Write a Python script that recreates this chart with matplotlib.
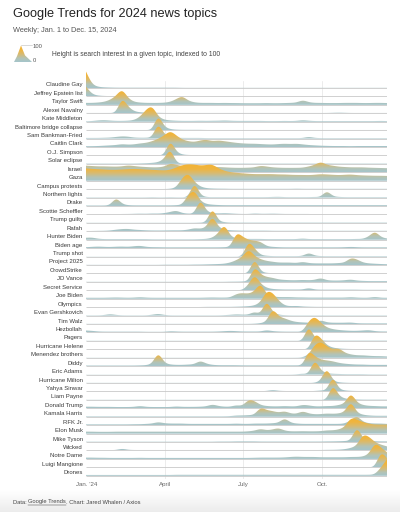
import numpy as np
import matplotlib
matplotlib.use('Agg')
import matplotlib.pyplot as plt
from matplotlib.patches import Polygon
from matplotlib.colors import LinearSegmentedColormap
import matplotlib.transforms as mtransforms

plt.rcParams['font.family'] = ['Liberation Sans', 'DejaVu Sans']

# ---------------- data (weekly, Dec 31 2023 .. Dec 15 2024, 51 weeks) -------------
topics = ["Claudine Gay", "Jeffrey Epstein list", "Taylor Swift", "Alexei Navalny",
          "Kate Middleton", "Baltimore bridge collapse", "Sam Bankman-Fried",
          "Caitlin Clark", "O.J. Simpson", "Solar eclipse", "Israel", "Gaza",
          "Campus protests", "Northern lights", "Drake", "Scottie Scheffler",
          "Trump guilty", "Rafah", "Hunter Biden", "Biden age", "Trump shot",
          "Project 2025", "CrowdStrike", "JD Vance", "Secret Service", "Joe Biden",
          "Olympics", "Evan Gershkovich", "Tim Walz", "Hezbollah", "Pagers",
          "Hurricane Helene", "Menendez brothers", "Diddy", "Eric Adams",
          "Hurricane Milton", "Yahya Sinwar", "Liam Payne", "Donald Trump",
          "Kamala Harris", "RFK Jr.", "Elon Musk", "Mike Tyson", "Wicked",
          "Notre Dame", "Luigi Mangione", "Drones"]

claudine = [100,22,7,4,3,2,2,2,2,2, 2,2,2,2,2,2,1,1,1,1, 1,1,1,1,1,1,1,1,1,1, 1,1,1,1,1,1,1,1,1,1, 1,1,1,1,1,1,1,1,1,1, 1]
epstein = [60,14,5,3,2,2,2,2,2,2, 2,2,2,2,2,2,2,2,2,2, 2,2,2,2,2,2,2,2,2,2, 2,2,2,2,2,2,2,2,2,2, 2,2,2,2,2,2,2,2,2,2, 2]
taylor = [12,12,14,18,30,55,100,40,18,14, 12,12,12,13,18,35,55,25,15,12, 12,12,11,12,11,11,10,10,10,10, 11,10,10,11,12,14,30,16,12,12, 11,11,11,12,12,12,11,11,12,12, 11]
navalny = [2,2,2,2,2,3,100,40,12,6, 4,3,3,2,2,2,2,2,2,2, 2,2,2,2,2,2,2,2,2,2, 2,2,2,2,2,2,2,2,2,2, 2,3,4,3,2,2,2,2,2,2, 2]
kate = [3,4,8,10,7,5,5,6,10,30, 75,100,30,12,8,6,5,5,5,6, 5,6,6,8,6,5,5,5,5,5, 4,4,4,5,4,5,10,6,4,4, 4,4,4,4,4,4,4,4,4,5, 4]
baltimore = [1,1,1,1,1,1,1,1,1,1, 1,1,100,20,6,3,2,2,2,2, 1,1,1,1,1,1,1,1,1,1, 1,1,1,1,1,1,1,1,1,1, 1,1,1,1,1,1,1,1,1,1, 1]
sbf = [4,4,4,5,6,10,14,12,6,5, 5,8,100,25,8,5,4,4,4,4, 3,3,3,3,3,3,3,3,3,3, 3,3,3,3,3,3,3,12,4,3, 3,3,3,3,3,3,3,3,3,3, 3]
caitlin = [5,5,6,8,10,12,18,14,16,22, 25,35,50,70,100,70,45,35,30,40, 45,35,40,35,30,25,22,20,20,18, 16,15,18,20,18,20,16,12,10,8, 7,6,6,6,5,6,6,6,6,6, 6]
oj = [1,1,1,1,1,1,1,1,1,1, 1,1,1,2,100,22,5,3,2,2, 2,2,2,2,2,2,2,2,2,2, 2,2,2,2,2,2,2,2,2,2, 2,2,2,2,2,2,2,2,2,2, 2]
eclipse = [2,2,2,2,2,2,2,2,2,3, 4,6,10,30,100,6,2,2,2,2, 2,2,2,2,2,2,2,2,2,2, 2,2,2,2,2,2,2,2,2,2, 3,2,2,2,2,2,2,2,2,2, 2]
israel = [40,38,36,36,35,34,36,42,38,34, 32,30,30,34,55,45,38,35,33,32, 32,33,32,30,28,27,27,28,30,40, 35,30,28,27,27,27,28,35,45,65, 45,40,34,32,30,30,30,28,27,26, 25]
gaza = [75,72,70,68,66,66,68,70,72,70, 68,66,64,62,66,80,95,100,98,92, 95,100,75,60,52,48,45,42,40,40, 40,40,38,38,36,35,35,34,36,40, 38,36,34,36,38,34,32,31,30,30, 29]
campus = [1,1,1,1,1,1,1,1,1,1, 1,1,1,1,2,10,70,100,45,15, 6,4,3,3,2,2,2,2,2,2, 2,2,2,2,2,3,2,2,2,2, 2,2,2,2,2,2,2,2,2,2, 2]
northern = [2,2,2,2,2,2,2,2,2,2, 2,3,2,2,3,2,2,3,100,15, 3,3,3,3,3,3,3,3,3,3, 3,4,5,3,3,3,3,3,4,4, 45,8,4,3,3,3,3,3,3,3, 3]
drake = [3,3,3,3,5,55,12,5,4,4, 4,4,4,4,4,5,8,70,100,30, 12,8,6,5,5,5,5,5,5,5, 5,5,5,5,5,5,5,5,5,5, 5,5,5,5,5,5,5,5,5,5, 5]
scheffler = [2,2,2,2,2,2,3,3,4,5, 4,6,5,8,15,25,8,5,5,100, 20,8,6,8,6,4,3,3,6,4, 4,5,4,3,3,3,3,3,2,2, 2,2,2,2,2,2,2,2,2,2, 2]
trump_guilty = [1,1,1,1,1,1,1,1,1,1, 1,1,1,1,1,1,1,1,1,2, 4,100,12,4,2,2,2,2,2,2, 2,2,2,2,2,2,2,2,2,2, 2,2,2,2,2,2,2,2,2,2, 2]
rafah = [2,2,3,3,5,10,14,15,10,8, 6,5,5,5,6,6,6,10,20,15, 25,100,25,10,6,5,4,4,4,4, 4,3,3,3,3,3,3,3,3,3, 3,3,3,3,3,3,3,3,3,3, 3]
hunter = [12,14,6,4,4,4,4,4,4,4, 4,3,3,3,3,3,3,3,3,4, 5,12,40,100,20,8,6,5,5,5, 4,4,4,4,4,4,8,4,4,4, 4,4,4,4,4,5,5,20,55,15, 8]
biden_age = [6,8,10,8,7,9,10,8,12,15, 8,6,6,5,5,5,5,5,5,5, 5,5,5,6,8,100,70,50,45,40, 12,8,6,5,5,5,5,5,5,5, 5,5,5,6,8,6,5,5,5,5, 5]
trump_shot = [1,1,1,1,1,1,1,1,1,1, 1,1,1,1,1,1,1,1,1,1, 1,1,1,1,1,1,2,100,50,10, 5,3,3,3,3,3,4,25,6,3, 3,3,3,3,4,3,3,3,3,3, 3]
project2025 = [1,1,1,1,1,1,1,1,1,1, 1,1,1,2,2,2,2,2,3,3, 4,5,6,8,15,30,50,100,55,35, 25,20,15,15,15,12,20,12,10,10, 10,10,12,15,45,35,15,10,8,6, 5]
crowdstrike = [1,1,1,1,1,1,1,1,1,1, 1,1,1,1,1,1,1,1,1,1, 1,1,1,1,1,1,1,1,100,12, 3,2,2,2,2,2,2,2,2,2, 2,2,2,2,2,2,2,2,2,2, 2]
jd_vance = [1,1,1,1,1,1,1,1,1,1, 1,1,1,1,1,1,1,1,1,1, 1,1,1,1,2,2,3,5,100,45, 30,25,15,12,10,10,12,10,12,25, 10,8,8,10,15,8,6,5,5,5, 5]
secret_service = [1,1,1,1,1,1,1,1,1,1, 1,1,1,1,1,1,1,1,1,1, 1,1,1,1,1,1,1,35,100,40, 15,8,6,5,5,5,5,15,5,4, 4,4,4,4,4,4,3,3,3,3, 3]
joe_biden = [6,6,6,6,7,8,7,6,7,10, 7,6,6,6,6,6,6,6,6,6, 7,8,7,7,8,30,35,30,45,100, 25,14,10,10,10,8,8,7,7,7, 7,7,7,7,10,7,6,6,12,6, 6]
olympics = [1,1,1,1,1,1,1,1,1,1, 1,1,1,1,1,1,1,1,1,1, 2,2,2,2,2,3,4,6,10,30, 100,90,40,10,6,8,4,3,2,2, 2,2,2,2,2,2,2,2,2,2, 2]
gershkovich = [2,2,2,3,10,4,2,2,2,2, 2,5,12,4,2,2,2,2,2,2, 2,2,2,3,5,8,6,6,25,8, 100,20,5,3,2,2,2,2,2,2, 2,2,2,2,2,2,2,2,2,2, 2]
walz = [1,1,1,1,1,1,1,1,1,1, 1,1,1,1,1,1,1,1,1,1, 1,1,1,1,1,1,1,1,2,5, 15,100,45,35,20,12,10,8,8,25, 10,8,8,8,10,5,4,4,4,4, 4]
hezbollah = [12,10,6,5,5,5,5,5,5,5, 4,4,4,4,8,6,5,5,5,5, 5,5,6,8,10,8,6,6,6,6, 15,8,6,5,5,5,5,70,100,60, 30,20,15,12,10,10,12,15,8,6, 6]
pagers = [1,1,1,1,1,1,1,1,1,1, 1,1,1,1,1,1,1,1,1,1, 1,1,1,1,1,1,1,1,1,1, 1,1,1,1,1,1,1,100,15,4, 2,2,2,2,2,2,2,2,2,2, 2]
helene = [1,1,1,1,1,1,1,1,1,1, 1,1,1,1,1,1,1,1,1,1, 1,1,1,1,1,1,1,1,1,1, 1,1,1,1,1,1,1,1,100,70, 25,10,5,3,2,2,2,2,2,2, 2]
menendez = [1,1,1,1,1,1,1,1,1,1, 1,1,1,1,1,1,1,1,1,1, 1,1,1,1,1,1,1,1,1,1, 1,1,1,1,1,1,2,20,80,100, 70,50,60,30,20,15,15,12,10,10, 8]
diddy = [4,4,4,4,4,4,4,4,4,5, 6,15,90,20,10,8,8,10,12,35, 15,8,6,6,6,6,5,5,5,5, 5,5,5,5,5,5,6,100,60,40, 35,30,20,15,12,10,10,8,8,8, 8]
eric_adams = [1,1,1,1,1,1,1,1,1,1, 1,1,1,1,1,1,1,1,1,1, 1,1,1,1,1,1,1,1,1,1, 1,1,1,1,1,2,6,4,100,25, 8,5,4,3,3,3,3,2,2,2, 2]
milton = [1,1,1,1,1,1,1,1,1,1, 1,1,1,1,1,1,1,1,1,1, 1,1,1,1,1,1,1,1,1,1, 1,1,1,1,1,1,1,1,1,15, 100,15,4,2,1,1,1,1,1,1, 1]
sinwar = [2,2,2,2,2,2,2,2,2,2, 2,2,2,2,2,2,2,2,2,2, 2,2,2,2,2,2,2,2,2,2, 3,10,4,3,2,2,2,2,3,6, 8,100,15,6,4,3,3,2,2,2, 2]
liam = [1,1,1,1,1,1,1,1,1,1, 1,1,1,1,1,1,1,1,1,1, 1,1,1,1,1,1,1,1,1,1, 1,1,1,1,1,1,1,1,1,1, 1,100,25,8,4,3,2,2,2,2, 2]
trump = [10,10,9,9,9,8,8,8,9,15, 9,8,8,8,8,12,9,9,9,10, 12,25,14,10,10,20,14,55,45,20, 14,12,12,14,12,12,22,18,12,12, 14,14,20,30,100,35,20,15,14,12, 12]
harris = [3,3,3,3,3,3,3,3,3,3, 3,3,3,3,3,3,3,3,3,3, 3,3,3,3,4,8,8,10,12,60, 40,35,25,35,20,18,35,20,15,16, 20,18,20,30,100,25,12,8,6,6, 6]
rfk = [5,5,5,5,5,5,5,5,6,6, 8,10,20,12,10,10,10,8,8,8, 8,8,8,8,8,10,8,8,10,10, 10,12,15,45,15,10,8,8,8,8, 8,8,8,10,30,60,20,12,10,10, 8]
musk = [12,12,11,11,11,12,12,12,12,12, 12,12,12,12,12,12,12,12,12,12, 12,12,12,12,12,12,12,14,18,30, 20,25,35,18,14,14,15,14,14,15, 20,20,25,40,100,85,70,60,55,55, 55]
tyson = [2,2,2,2,2,2,2,2,2,2, 2,2,2,2,2,2,2,2,2,2, 2,2,3,3,3,4,4,4,4,3, 3,3,3,3,3,3,3,3,3,3, 4,4,5,6,10,100,20,8,5,4, 4]
wicked = [2,2,2,2,2,3,12,4,3,3, 3,3,3,3,3,3,3,3,3,3, 3,3,3,3,3,3,3,3,3,3, 3,3,3,3,3,3,3,3,3,3, 4,4,5,8,15,30,100,85,50,35, 25]
notre_dame = [8,8,7,7,6,6,6,6,6,7, 6,6,6,6,6,6,6,6,6,6, 6,6,6,6,6,6,6,6,7,8, 8,8,8,9,12,14,12,12,12,10, 10,10,10,10,12,12,14,30,100,70, 40]
luigi = [1,1,1,1,1,1,1,1,1,1, 1,1,1,1,1,1,1,1,1,1, 1,1,1,1,1,1,1,1,1,1, 1,1,1,1,1,1,1,1,1,1, 1,1,1,1,1,1,1,1,2,100, 55]
drones = [5,5,5,5,5,5,5,5,5,5, 5,5,5,5,5,6,6,6,6,6, 6,6,6,6,6,6,6,6,6,6, 6,6,6,6,6,6,6,6,6,6, 6,6,6,6,6,6,6,6,8,50, 100]

series = [claudine, epstein, taylor, navalny, kate, baltimore, sbf, caitlin, oj,
          eclipse, israel, gaza, campus, northern, drake, scheffler, trump_guilty,
          rafah, hunter, biden_age, trump_shot, project2025, crowdstrike, jd_vance,
          secret_service, joe_biden, olympics, gershkovich, walz, hezbollah, pagers,
          helene, menendez, diddy, eric_adams, milton, sinwar, liam, trump, harris,
          rfk, musk, tyson, wicked, notre_dame, luigi, drones]

# x = days since Jan 1 2024 (weeks start Sunday Dec 31 2023)
week_days = [7 * w - 1 for w in range(51)]
tick_days = [0, 91, 182, 274]
tick_labels = ["Jan. '24", "April", "July", "Oct."]

# legend glyph
legend_x = [0, 3, 7, 11, 18]
legend_v = [0, 35, 100, 40, 0]

# ---------------- helpers -------------
W, H = 400, 512
fig = plt.figure(figsize=(W / 100, H / 100), dpi=100)


def px_box(x0, y0, x1, y1):
    return [x0 / W, 1 - y1 / H, (x1 - x0) / W, (y1 - y0) / H]


def curve_basis(x, y, n=10):
    """Replicates d3.curveBasis."""
    x = np.asarray(x, float)
    y = np.asarray(y, float)
    t = np.linspace(0, 1, n)[1:]

    def bez(p0, c1, c2, p3):
        return (1 - t) ** 3 * p0 + 3 * (1 - t) ** 2 * t * c1 + 3 * (1 - t) * t ** 2 * c2 + t ** 3 * p3

    px, py = [x[0]], [y[0]]
    cx, cy = (5 * x[0] + x[1]) / 6, (5 * y[0] + y[1]) / 6
    px.append(cx); py.append(cy)

    def seg(x0, y0, x1, y1, xn, yn, cx, cy):
        c1x, c1y = (2 * x0 + x1) / 3, (2 * y0 + y1) / 3
        c2x, c2y = (x0 + 2 * x1) / 3, (y0 + 2 * y1) / 3
        ex, ey = (x0 + 4 * x1 + xn) / 6, (y0 + 4 * y1 + yn) / 6
        px.extend(bez(cx, c1x, c2x, ex)); py.extend(bez(cy, c1y, c2y, ey))
        return ex, ey

    for k in range(2, len(x)):
        cx, cy = seg(x[k - 2], y[k - 2], x[k - 1], y[k - 1], x[k], y[k], cx, cy)
    cx, cy = seg(x[-2], y[-2], x[-1], y[-1], x[-1], y[-1], cx, cy)
    px.append(x[-1]); py.append(y[-1])
    return np.array(px), np.array(py)


cmap = LinearSegmentedColormap.from_list(
    'ridge', [(0.0, '#a4c5cc'), (0.22, '#b3c3b6'), (0.45, '#d6bb74'), (0.7, '#efb540'), (1.0, '#f3b333')])
grad = np.linspace(0, 1, 256).reshape(-1, 1)

# ---------------- main ridgeline axes -------------
ROW_PX = 8.43
TOP_PX, BOT_PX, BASE0 = 64, 479, 88
ax = fig.add_axes(px_box(86, TOP_PX, 387, BOT_PX))
RIDGE = 16.5 / ROW_PX  # height of value 100 in row units
x0d, x1d = week_days[0], week_days[-1]

for d in tick_days[1:]:
    ax.plot([d, d], [(BOT_PX - BASE0) / ROW_PX, -0.8], color='#e4e4e4', lw=0.5, zorder=0.5)

for i, (name, vals) in enumerate(zip(topics, series)):
    assert len(vals) == 51, name
    z = 1 + 3 * i
    ax.plot([x0d, x1d], [i, i], color='#c9c9c9', lw=0.6, zorder=z, solid_capstyle='butt')
    cx, cv = curve_basis(week_days, vals)
    cy = i - cv / 100.0 * RIDGE
    verts = np.column_stack([np.r_[cx, x1d, x0d], np.r_[cy, i, i]])
    poly = Polygon(verts, closed=True, transform=ax.transData, facecolor='none', edgecolor='none')
    im = ax.imshow(grad, cmap=cmap, extent=(x0d, x1d, i, i - RIDGE), origin='lower',
                   aspect='auto', interpolation='bilinear', zorder=z + 1)
    im.set_clip_path(poly)
    ax.text(-0.011, i - 0.36, name, transform=mtransforms.blended_transform_factory(ax.transAxes, ax.transData),
            ha='right', va='center', fontsize=4.3, color='#3a3a3a')

ax.set_xlim(x0d, x1d)
ax.set_ylim((BOT_PX - BASE0) / ROW_PX, (TOP_PX - BASE0) / ROW_PX)
ax.set_xticks(tick_days)
ax.set_xticklabels(tick_labels)
ax.set_yticks([])
ax.tick_params(axis='x', length=0, pad=2.5, labelsize=4.4, labelcolor='#666666')
for s in ax.spines.values():
    s.set_visible(False)
ax.patch.set_alpha(0)

# ---------------- header -------------
fig.text(13 / W, 1 - 14 / H, "Google Trends for 2024 news topics", fontsize=9.2,
         color='#222222', ha='left', va='center')
fig.text(13 / W, 1 - 31 / H, "Weekly; Jan. 1 to Dec. 15, 2024", fontsize=5.3,
         color='#555555', ha='left', va='center')

lax = fig.add_axes(px_box(14, 45, 32, 62))
lx, lv = np.array(legend_x, float), np.array(legend_v, float)
lpoly = Polygon(np.column_stack([np.r_[lx, lx[-1], lx[0]], np.r_[lv, 0, 0]]), closed=True,
                transform=lax.transData, facecolor='none', edgecolor='none')
lim = lax.imshow(grad, cmap=cmap, extent=(0, 18, 0, 100), origin='lower', aspect='auto',
                 interpolation='bilinear')
lim.set_clip_path(lpoly)
lax.plot([7, 18], [100, 100], color='#bbbbbb', lw=0.4, clip_on=False)
lax.set_xlim(0, 18)
lax.set_ylim(0, 103)
lax.axis('off')
fig.text(33 / W, 1 - 47 / H, "100", fontsize=4.2, color='#555555', ha='left', va='center')
fig.text(33 / W, 1 - 61 / H, "0", fontsize=4.2, color='#555555', ha='left', va='center')
fig.text(52 / W, 1 - 54 / H, "Height is search interest in a given topic, indexed to 100",
         fontsize=4.85, color='#444444', ha='left', va='center')

# ---------------- footer -------------
bax = fig.add_axes(px_box(0, 490, 400, 512))
bg = np.linspace(0, 1, 64).reshape(-1, 1)
bax.imshow(bg, cmap=LinearSegmentedColormap.from_list('bg', ['#ffffff', '#ececec']),
           extent=(0, 1, 1, 0), aspect='auto', origin='upper')
bax.axis('off')
bax.set_zorder(-1)

fig.canvas.draw()
r = fig.canvas.get_renderer()
fy = 1 - 502 / H
fs = 4.15
t1 = fig.text(13 / W, fy, "Data: ", fontsize=fs, color='#444444', ha='left', va='center')
bb = t1.get_window_extent(r)
t2 = fig.text(bb.x1 / W, fy, "Google Trends", fontsize=fs, color='#444444', ha='left', va='center')
bb2 = t2.get_window_extent(r)
fig.add_artist(plt.Line2D([bb2.x0 / W, bb2.x1 / W], [(bb2.y0 - 0.3) / H, (bb2.y0 - 0.3) / H],
                          color='#444444', lw=0.35))
fig.text(bb2.x1 / W, fy, ". Chart: Jared Whalen / Axios", fontsize=fs, color='#444444',
         ha='left', va='center')

fig.savefig('out.png', dpi=100, facecolor='white')
